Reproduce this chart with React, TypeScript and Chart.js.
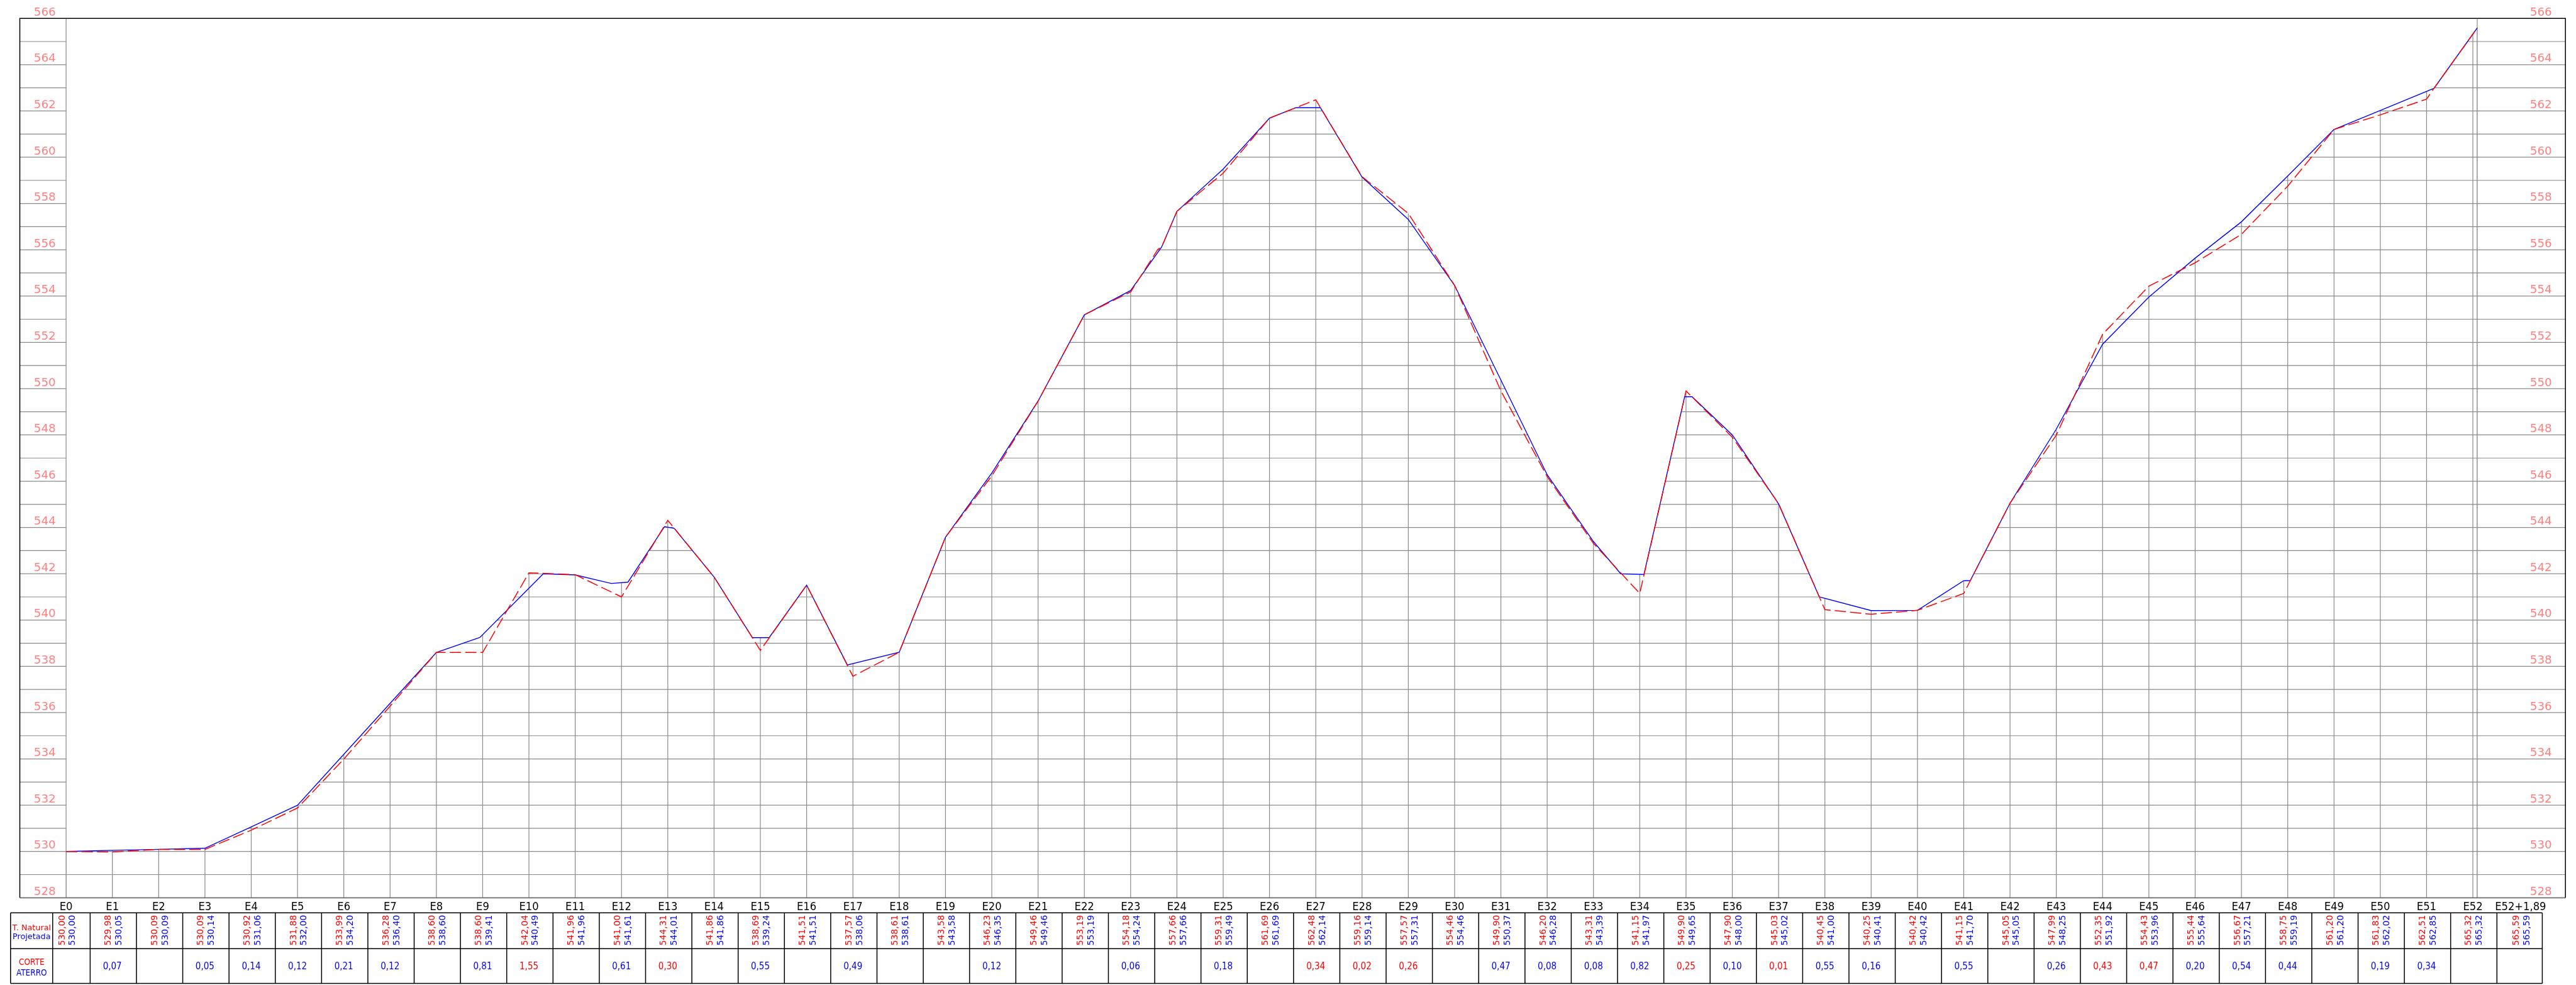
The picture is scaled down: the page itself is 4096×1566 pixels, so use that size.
import React, { useEffect, useRef } from 'react';
import { Chart, registerables } from 'chart.js';

Chart.register(...registerables);

// ---------------- data ----------------
const stationLabels = [
  'E0', 'E1', 'E2', 'E3', 'E4', 'E5', 'E6', 'E7', 'E8', 'E9', 'E10',
  'E11', 'E12', 'E13', 'E14', 'E15', 'E16', 'E17', 'E18', 'E19', 'E20',
  'E21', 'E22', 'E23', 'E24', 'E25', 'E26', 'E27', 'E28', 'E29', 'E30',
  'E31', 'E32', 'E33', 'E34', 'E35', 'E36', 'E37', 'E38', 'E39', 'E40',
  'E41', 'E42', 'E43', 'E44', 'E45', 'E46', 'E47', 'E48', 'E49', 'E50',
  'E51', 'E52', 'E52+1,89',
];
// chainage in stations (20 m each)
const stationPos = [
  0, 1, 2, 3, 4, 5, 6, 7, 8, 9, 10,
  11, 12, 13, 14, 15, 16, 17, 18, 19, 20,
  21, 22, 23, 24, 25, 26, 27, 28, 29, 30,
  31, 32, 33, 34, 35, 36, 37, 38, 39, 40,
  41, 42, 43, 44, 45, 46, 47, 48, 49, 50,
  51, 52, 52.0945,
];
// T. Natural (terrain) elevations
const naturalElev = [
  530.00, 529.98, 530.09, 530.09, 530.92, 531.88, 533.99, 536.28, 538.60, 538.60, 542.04,
  541.96, 541.00, 544.31, 541.86, 538.69, 541.51, 537.57, 538.61, 543.58, 546.23,
  549.46, 553.19, 554.18, 557.66, 559.31, 561.69, 562.48, 559.16, 557.57, 554.46,
  549.90, 546.20, 543.31, 541.15, 549.90, 547.90, 545.03, 540.45, 540.25, 540.42,
  541.15, 545.05, 547.99, 552.35, 554.43, 555.44, 556.67, 558.75, 561.20, 561.83,
  562.51, 565.32, 565.59,
];
// Projetada elevations (table)
const projectedElev = [
  530.00, 530.05, 530.09, 530.14, 531.06, 532.00, 534.20, 536.40, 538.60, 539.41, 540.49,
  541.96, 541.61, 544.01, 541.86, 539.24, 541.51, 538.06, 538.61, 543.58, 546.35,
  549.46, 553.19, 554.24, 557.66, 559.49, 561.69, 562.14, 559.14, 557.31, 554.46,
  550.37, 546.28, 543.39, 541.97, 549.65, 548.00, 545.02, 541.00, 540.41, 540.42,
  541.70, 545.05, 548.25, 551.92, 553.96, 555.64, 557.21, 559.19, 561.20, 562.02,
  562.85, 565.32, 565.59,
];
// CORTE (C) / ATERRO (A) values
const cutFillValue = [
  '', '0,07', '', '0,05', '0,14', '0,12', '0,21', '0,12', '', '0,81', '1,55',
  '', '0,61', '0,30', '', '0,55', '', '0,49', '', '', '0,12',
  '', '', '0,06', '', '0,18', '', '0,34', '0,02', '0,26', '',
  '0,47', '0,08', '0,08', '0,82', '0,25', '0,10', '0,01', '0,55', '0,16', '',
  '0,55', '', '0,26', '0,43', '0,47', '0,20', '0,54', '0,44', '', '0,19',
  '0,34', '', '',
];
const cutFillKind = [
  '', 'A', '', 'A', 'A', 'A', 'A', 'A', '', 'A', 'C',
  '', 'A', 'C', '', 'A', '', 'A', '', '', 'A',
  '', '', 'A', '', 'A', '', 'C', 'C', 'C', '',
  'A', 'A', 'A', 'A', 'C', 'A', 'C', 'A', 'A', '',
  'A', '', 'A', 'C', 'C', 'A', 'A', 'A', '', 'A',
  'A', '', '',
];
// extra terrain vertices between stations
const naturalExtraPos = [23.59, 23.67, 51.16];
const naturalExtraElev = [556.02, 556.12, 562.98];
// vertices of the drawn projected line
const projectedLinePos = [
  0, 1, 2, 3, 4, 5, 6, 7, 8, 8.94, 10.31, 11, 11.78, 12.14, 12.93, 13.14, 14,
  14.83, 15.19, 16, 16.88, 18, 19, 20, 21, 22, 23, 23.67, 24, 25, 26, 26.57, 27.1,
  28, 29, 30, 32, 33, 33.59, 34.09, 34.97, 35.13, 36, 37, 37.88, 39, 40, 41, 41.14,
  42, 43, 44, 45, 46, 47, 48, 49, 50, 51.16, 52, 52.0945,
];
const projectedLineElev = [
  530.00, 530.05, 530.09, 530.14, 531.06, 532.00, 534.20, 536.40, 538.60, 539.25, 542.00, 541.95, 541.58, 541.64, 544.04, 543.96, 541.86,
  539.24, 539.24, 541.51, 538.06, 538.61, 543.58, 546.35, 549.46, 553.19, 554.24, 556.12, 557.66, 559.49, 561.69, 562.14, 562.14,
  559.14, 557.31, 554.46, 546.28, 543.39, 542.00, 541.97, 549.65, 549.65, 548.00, 545.02, 541.00, 540.41, 540.42, 541.70, 541.70,
  545.05, 548.25, 551.92, 553.96, 555.64, 557.21, 559.19, 561.20, 562.02, 562.98, 565.32, 565.59,
];
const elevTicks = [528, 530, 532, 534, 536, 538, 540, 542, 544, 546, 548, 550, 552, 554, 556, 558, 560, 562, 564, 566];

// ---------------- layout / style ----------------
const W = 4096;
const H = 1566;
const X_MIN = -1;
const X_MAX = 54;
const Y_MIN = 528;
const Y_MAX = 566;
const RED = '#ff0000';
const BLUE = '#0000ff';
const GRID = '#8a8a8a';
const PINK = '#ff8080';
const SANS = '"DejaVu Sans", "Liberation Sans", sans-serif';
const COND = '"DejaVu Sans Condensed", "Liberation Sans Narrow", "DejaVu Sans", sans-serif';

const naturalLine = stationPos
  .map((p, i) => ({ x: p, y: naturalElev[i] }))
  .concat(naturalExtraPos.map((p, i) => ({ x: p, y: naturalExtraElev[i] })))
  .sort((a, b) => a.x - b.x);
const projectedLine = projectedLinePos.map((p, i) => ({ x: p, y: projectedLineElev[i] }));

// table rows (pixels)
const T_TOP = 1451.2;
const T_MID = 1508.2;
const T_BOT = 1563.6;
const LABEL_BASE = 1447.3;

const colCenter = (i: number) => (i < stationPos.length - 1 ? stationPos[i] : 53.03);

const profilePlugin = {
  id: 'profile',
  beforeDatasetsDraw(chart: any) {
    const { ctx, chartArea: ca } = chart;
    const px = (v: number) => chart.scales.x.getPixelForValue(v);
    const py = (v: number) => chart.scales.y.getPixelForValue(v);
    const first = stationPos[0];
    const last = stationPos[stationPos.length - 1];

    // grid clipped under the profile
    ctx.save();
    ctx.beginPath();
    const area = (pts: { x: number; y: number }[]) => {
      ctx.moveTo(px(pts[0].x), ca.bottom);
      for (const p of pts) ctx.lineTo(px(p.x), py(p.y));
      ctx.lineTo(px(pts[pts.length - 1].x), ca.bottom);
      ctx.closePath();
    };
    area(naturalLine);
    area(projectedLine);
    ctx.clip();
    ctx.strokeStyle = GRID;
    ctx.lineWidth = 1.2;
    ctx.beginPath();
    for (let e = Y_MIN + 1; e < Y_MAX; e++) {
      const yy = py(e);
      ctx.moveTo(px(first), yy);
      ctx.lineTo(px(last), yy);
    }
    for (const s of stationPos) {
      ctx.moveTo(px(s), ca.top);
      ctx.lineTo(px(s), ca.bottom);
    }
    ctx.stroke();
    ctx.restore();

    // side columns
    ctx.save();
    ctx.strokeStyle = GRID;
    ctx.lineWidth = 1.2;
    ctx.beginPath();
    for (let e = Y_MIN + 1; e < Y_MAX; e++) {
      const yy = py(e);
      ctx.moveTo(px(X_MIN), yy);
      ctx.lineTo(px(first), yy);
      ctx.moveTo(px(last), yy);
      ctx.lineTo(px(X_MAX), yy);
    }
    ctx.moveTo(px(first), ca.top);
    ctx.lineTo(px(first), ca.bottom);
    ctx.moveTo(px(last), ca.top);
    ctx.lineTo(px(last), ca.bottom);
    ctx.stroke();
    ctx.restore();
  },
  afterDatasetsDraw(chart: any) {
    const { ctx, chartArea: ca } = chart;
    const px = (v: number) => chart.scales.x.getPixelForValue(v);
    const py = (v: number) => chart.scales.y.getPixelForValue(v);

    ctx.save();
    // bottom line
    ctx.strokeStyle = '#6e6e6e';
    ctx.lineWidth = 1.8;
    ctx.beginPath();
    ctx.moveTo(px(X_MIN), ca.bottom);
    ctx.lineTo(px(X_MAX), ca.bottom);
    ctx.stroke();
    // frame
    ctx.strokeStyle = '#000';
    ctx.lineWidth = 1.5;
    ctx.beginPath();
    ctx.moveTo(px(X_MIN), ca.bottom);
    ctx.lineTo(px(X_MIN), ca.top);
    ctx.lineTo(px(X_MAX), ca.top);
    ctx.lineTo(px(X_MAX), ca.bottom);
    ctx.stroke();

    // elevation labels
    ctx.fillStyle = PINK;
    ctx.font = `18.3px ${SANS}`;
    ctx.textAlign = 'center';
    ctx.textBaseline = 'alphabetic';
    for (const v of elevTicks) {
      const yy = py(v) - 4.3;
      ctx.fillText(String(v), px(-0.46), yy);
      ctx.fillText(String(v), px(53.47), yy);
    }

    // station labels
    ctx.fillStyle = '#000';
    ctx.font = `18.2px ${COND}`;
    stationLabels.forEach((lab, i) => {
      ctx.fillText(lab, px(colCenter(i)), LABEL_BASE);
    });

    // table grid
    ctx.strokeStyle = '#000';
    ctx.lineWidth = 1.5;
    ctx.beginPath();
    const tl = px(-1.2);
    const tr = px(53.5);
    for (const yy of [T_TOP, T_MID, T_BOT]) {
      ctx.moveTo(tl, yy);
      ctx.lineTo(tr, yy);
    }
    const vlines = [-1.2, -0.29];
    for (let i = 0; i < stationPos.length - 1; i++) vlines.push(i + 0.52);
    vlines.push(53.5);
    for (const v of vlines) {
      ctx.moveTo(px(v), T_TOP);
      ctx.lineTo(px(v), T_BOT);
    }
    ctx.stroke();

    // header texts
    const hc = px(-0.745);
    ctx.font = `12.8px ${SANS}`;
    ctx.fillStyle = RED;
    ctx.fillText('T. Natural', hc, 1479.2);
    ctx.fillStyle = BLUE;
    ctx.fillText('Projetada', hc, 1492.8);
    ctx.font = `13.5px ${COND}`;
    ctx.fillStyle = RED;
    ctx.fillText('CORTE', hc, 1534.3);
    ctx.fillStyle = BLUE;
    ctx.fillText('ATERRO', hc, 1550.6);

    // elevation values (rotated)
    const fs = 13.9;
    ctx.font = `${fs}px ${SANS}`;
    const cy = 1479;
    const drawRot = (txt: string, cx: number, color: string) => {
      ctx.save();
      ctx.translate(cx + 0.365 * fs, cy);
      ctx.rotate(-Math.PI / 2);
      ctx.fillStyle = color;
      ctx.textAlign = 'center';
      ctx.textBaseline = 'alphabetic';
      ctx.fillText(txt, 0, 0);
      ctx.restore();
    };
    const fmt = (v: number) => v.toFixed(2).replace('.', ',');
    stationPos.forEach((_, i) => {
      const c = px(colCenter(i));
      drawRot(fmt(naturalElev[i]), c - 7.6, RED);
      drawRot(fmt(projectedElev[i]), c + 9.3, BLUE);
    });

    // cut / fill values
    ctx.font = `15px ${COND}`;
    ctx.textAlign = 'center';
    cutFillValue.forEach((txt, i) => {
      if (!txt) return;
      ctx.fillStyle = cutFillKind[i] === 'C' ? RED : BLUE;
      ctx.fillText(txt, px(colCenter(i)), 1541.3);
    });
    ctx.restore();
  },
};

export default function App() {
  const ref = useRef<HTMLCanvasElement>(null);
  useEffect(() => {
    document.body.style.margin = '0';
    const canvas = ref.current as HTMLCanvasElement;
    const chart = new Chart(canvas, {
      type: 'line',
      data: {
        datasets: [
          {
            label: 'T. Natural',
            data: naturalLine,
            borderColor: RED,
            borderWidth: 1.5,
            borderDash: [18, 6.5],
            pointRadius: 0,
            tension: 0,
            fill: false,
            order: 0,
          },
          {
            label: 'Projetada',
            data: projectedLine,
            borderColor: BLUE,
            borderWidth: 1.4,
            pointRadius: 0,
            tension: 0,
            fill: false,
            order: 1,
          },
        ],
      } as any,
      options: {
        responsive: false,
        animation: false,
        devicePixelRatio: 1,
        events: [],
        layout: { padding: { left: 31.5, right: 16.8, top: 29.2, bottom: 138.7 } },
        scales: {
          x: { type: 'linear', min: X_MIN, max: X_MAX, display: false },
          y: { type: 'linear', min: Y_MIN, max: Y_MAX, display: false },
        },
        plugins: { legend: { display: false }, tooltip: { enabled: false } },
      } as any,
      plugins: [profilePlugin],
    });
    return () => chart.destroy();
  }, []);
  return (
    <div style={{ position: 'absolute', left: 0, top: 0, width: W, height: H, background: '#fff' }}>
      <canvas ref={ref} width={W} height={H} style={{ display: 'block', width: W, height: H }} />
    </div>
  );
}
